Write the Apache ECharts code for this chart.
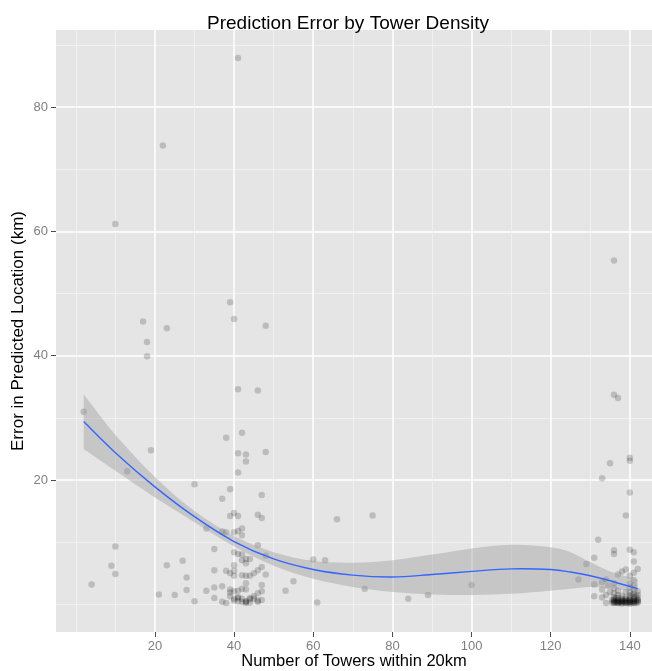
<!DOCTYPE html>
<html>
<head>
<meta charset="utf-8">
<title>Prediction Error by Tower Density</title>
<script src="https://cdn.jsdelivr.net/npm/echarts@6/dist/echarts.min.js"></script>
<style>
  html, body { margin: 0; padding: 0; background: #fff; }
  #chart { width: 652px; height: 671px; }
</style>
</head>
<body>
<div id="chart"></div>
<script>
// number of towers within 20km, and the error of each prediction (km)
const towers = [
  2, 4, 9, 10, 10, 10, 13, 17, 18, 18, 19, 21, 22, 23, 23, 25, 27, 28, 28, 30, 30,
  33, 33, 35, 35, 35, 35, 37, 37, 37, 37, 38, 38, 38, 38,
  39, 39, 39, 39, 39, 39, 39,
  40, 40, 40, 40, 40, 40, 40, 40, 40, 40,
  41, 41, 41, 41, 41, 41, 41, 41, 41, 41, 41,
  42, 42, 42, 42, 42, 42, 42, 42, 42,
  43, 43, 43, 43, 43, 43, 43, 43, 43, 43,
  44, 44, 44, 44, 44, 45, 45, 45,
  46, 46, 46, 46, 46, 46, 46, 47, 47, 47, 47, 47, 47, 48, 48, 48, 48,
  53, 55, 60, 61, 63, 66, 73, 75, 84, 89, 100,
  127, 129, 131, 131, 131, 132, 133, 133, 133, 133, 134, 134, 134, 134.5, 135, 135,
  136, 136, 136, 136, 137, 137, 138, 139, 139, 140, 140, 140, 140, 140, 141, 141, 141, 142,
  136, 136, 136, 136, 136, 136, 136,
  137, 137, 137, 137, 137, 137,
  138, 138, 138, 138, 138,
  139, 139, 139, 139, 139,
  140, 140, 140, 140, 140, 140, 140, 140,
  141, 141, 141, 141, 141, 141, 141, 141,
  142, 142, 142, 142, 142,
  135.5, 135.5, 136.5, 136.5, 137.5, 138.5, 139.5, 140.5, 140.5, 141.5, 141.5,
  136, 136, 136.5, 137, 137, 137.5, 138, 138, 138.5, 139, 139, 139.5, 140, 140, 140.5, 141, 141, 141.5, 142, 142
];
const errorKm = [
  31.0, 3.2, 6.2, 9.3, 4.9, 61.2, 21.4, 45.5, 42.2, 39.9, 24.8, 1.6, 73.8, 44.4, 6.3, 1.5, 7.0, 4.3, 2.3, 0.5, 19.3,
  12.2, 2.2, 8.9, 5.5, 2.7, 1.0, 17.0, 11.7, 2.9, 0.4, 26.8, 11.6, 5.4, 0.2,
  48.6, 18.5, 14.2, 5.0, 2.4, 1.9, 1.3,
  45.9, 14.7, 11.6, 8.4, 6.3, 5.4, 4.6, 2.1, 0.9, 0.6,
  87.9, 34.6, 24.3, 21.2, 14.2, 11.8, 8.1, 2.2, 1.2, 1.0, 0.5,
  27.6, 12.2, 11.1, 8.0, 7.1, 4.7, 2.5, 0.4, 0.9,
  24.1, 23.0, 7.3, 6.6, 4.6, 3.4, 2.4, 0.4, 0.2, 0.5,
  7.3, 4.6, 1.0, 0.8, 0.3, 5.0, 1.3, 0.9,
  34.4, 14.4, 9.5, 5.5, 1.8, 0.6, 0.4, 17.6, 13.9, 6.0, 3.1, 2.1, 0.7, 44.8, 24.5, 7.8, 4.8,
  2.2, 3.7, 7.2, 0.3, 7.1, 13.7, 2.5, 14.3, 0.9, 1.5, 3.1,
  4.0, 6.5, 7.5, 3.2, 1.3, 10.4, 20.3, 3.6, 2.4, 1.1, 4.0, 0.2, 1.5, 3.0, 22.7, 2.0,
  55.3, 33.7, 8.7, 8.1, 33.2, 4.8, 5.3, 14.3, 5.6, 23.6, 23.1, 18.0, 8.8, 4.6, 8.4, 6.9, 5.1, 5.7,
  0.2, 0.5, 0.8, 1.2, 1.8, 2.6, 3.4,
  0.2, 0.4, 0.7, 1.0, 1.5, 2.2,
  0.1, 0.4, 0.6, 0.9, 1.4,
  0.2, 0.5, 0.8, 1.1, 2.0,
  0.1, 0.4, 0.7, 1.0, 1.4, 2.0, 2.7, 3.3,
  0.2, 0.5, 0.8, 1.2, 1.7, 2.4, 3.0, 3.9,
  0.3, 0.6, 1.0, 1.5, 2.1,
  0.3, 0.7, 0.3, 1.0, 0.5, 0.3, 0.4, 0.3, 1.6, 0.6, 1.3,
  0.3, 0.6, 0.5, 0.2, 0.5, 0.3, 0.3, 0.6, 0.5, 0.3, 0.6, 0.2, 0.3, 0.6, 0.5, 0.3, 0.6, 0.2, 0.4, 0.7
];

// loess fit and its confidence band
const smoothX  = [2, 10, 20, 30, 40, 50, 60, 70, 80, 90, 100, 110, 120, 125, 130, 135, 142];
const smoothY  = [29.4, 24.4, 18.9, 14.1, 10.1, 7.3, 5.6, 4.7, 4.4, 4.8, 5.3, 5.7, 5.6, 5.2, 4.6, 3.8, 2.5];
const smoothLo = [25.0, 21.5, 17.2, 13.2, 9.3, 6.2, 4.1, 2.8, 2.0, 1.6, 1.5, 1.7, 2.2, 2.5, 2.8, 2.6, 2.0];
const smoothHi = [33.8, 27.3, 20.5, 15.0, 11.0, 8.4, 7.0, 6.7, 7.1, 8.0, 9.0, 9.6, 9.2, 8.4, 6.8, 5.3, 4.0];

const xTicks = [20, 40, 60, 80, 100, 120, 140];
const xMinor = [0, 10, 30, 50, 70, 90, 110, 130];
const yTicks = [20, 40, 60, 80];
const yMinor = [0, 10, 30, 50, 70, 90];

const XMIN = -5, XMAX = 145.6;
const YMIN = -4.45, YMAX = 92.4;
const FONT = 'Liberation Sans, Arial, Helvetica, sans-serif';

const pts = towers.map((t, i) => [t, errorKm[i]]);

// catmull-rom through pixel points, as svg path commands
function spline(p, move) {
  let d = (move ? 'M' : 'L') + p[0];
  for (let i = 0; i < p.length - 1; i++) {
    const a = p[i - 1] || p[i], b = p[i], c = p[i + 1], e = p[i + 2] || c;
    const c1 = [b[0] + (c[0] - a[0]) / 6, b[1] + (c[1] - a[1]) / 6];
    const c2 = [c[0] - (e[0] - b[0]) / 6, c[1] - (e[1] - b[1]) / 6];
    d += ' C' + c1 + ' ' + c2 + ' ' + c;
  }
  return d;
}

const chart = echarts.init(document.getElementById('chart'), null, { renderer: 'canvas' });

const minorAxis = (min, max, vals, pos) => ({
  type: 'value', min: min, max: max, position: pos,
  axisLine: { show: false, onZero: false },
  axisTick: { show: false, customValues: vals },
  axisLabel: { show: false, customValues: vals },
  splitLine: { show: true, lineStyle: { color: '#f2f2f2', width: 0.8 } }
});

chart.setOption({
  animation: false,
  backgroundColor: '#ffffff',
  textStyle: { fontFamily: FONT },
  title: {
    text: 'Prediction Error by Tower Density',
    left: 343, top: 9, textAlign: 'center',
    textStyle: { fontSize: 19, fontWeight: 'normal', color: '#000', fontFamily: FONT }
  },
  grid: {
    left: 56, right: 0, top: 30, bottom: 39,
    outerBoundsMode: 'none',
    show: true, backgroundColor: '#e5e5e5', borderWidth: 0
  },
  xAxis: [
    minorAxis(XMIN, XMAX, xMinor, 'top'),
    {
      type: 'value', min: XMIN, max: XMAX, position: 'bottom',
      name: 'Number of Towers within 20km', nameLocation: 'middle', nameGap: 21,
      nameMoveOverlap: false,
      nameTextStyle: { fontSize: 16.5, color: '#000', fontFamily: FONT },
      axisLine: { show: false, onZero: false },
      axisTick: { show: true, length: 5, customValues: xTicks, lineStyle: { color: '#4d4d4d', width: 1 } },
      axisLabel: { customValues: xTicks, margin: 8, fontSize: 13, color: '#7f7f7f', fontFamily: FONT },
      splitLine: { show: true, lineStyle: { color: '#ffffff', width: 1.5 } }
    }
  ],
  yAxis: [
    minorAxis(YMIN, YMAX, yMinor, 'right'),
    {
      type: 'value', min: YMIN, max: YMAX, position: 'left',
      name: 'Error in Predicted Location (km)', nameLocation: 'middle', nameGap: 29,
      nameMoveOverlap: false,
      nameTextStyle: { fontSize: 17, color: '#000', fontFamily: FONT },
      axisLine: { show: false, onZero: false },
      axisTick: { show: true, length: 5, customValues: yTicks, lineStyle: { color: '#4d4d4d', width: 1 } },
      axisLabel: { customValues: yTicks, margin: 8, fontSize: 13, color: '#7f7f7f', fontFamily: FONT },
      splitLine: { show: true, lineStyle: { color: '#ffffff', width: 1.5 } }
    }
  ],
  series: [
    {
      type: 'scatter', xAxisIndex: 1, yAxisIndex: 1,
      data: pts, symbolSize: 6.5, silent: true, z: 2,
      itemStyle: { color: 'rgba(0,0,0,0.22)' }
    },
    {
      // smoother: grey confidence band, blue fitted line
      type: 'custom', xAxisIndex: 1, yAxisIndex: 1, silent: true, z: 3,
      data: [[smoothX[0], smoothY[0]]],
      renderItem: function (params, api) {
        const up = smoothX.map((x, i) => api.coord([x, smoothHi[i]]));
        const lo = smoothX.map((x, i) => api.coord([x, smoothLo[i]])).reverse();
        const mid = smoothX.map((x, i) => api.coord([x, smoothY[i]]));
        return {
          type: 'group',
          children: [
            {
              type: 'path',
              shape: { pathData: spline(up, true) + ' ' + spline(lo, false) + ' Z' },
              style: { fill: 'rgba(153,153,153,0.4)' }
            },
            {
              type: 'path',
              shape: { pathData: spline(mid, true) },
              style: { fill: null, stroke: '#3366ff', lineWidth: 1.4 }
            }
          ]
        };
      }
    }
  ]
});
</script>
</body>
</html>
